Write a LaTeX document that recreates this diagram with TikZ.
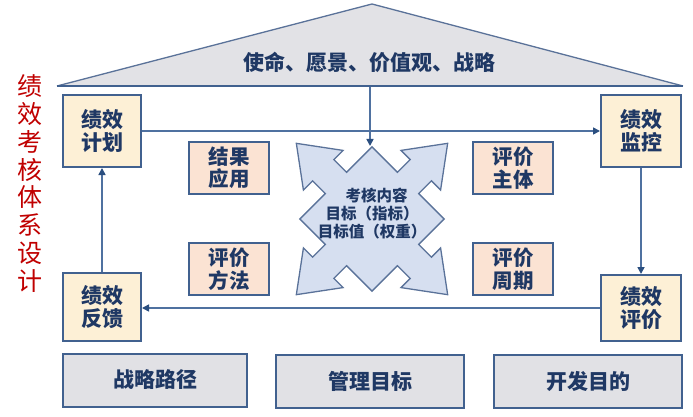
\documentclass[tikz,border=0pt]{standalone}
\usepackage{fontspec}
\newfontfamily\cjk{Noto Sans CJK SC}
\usetikzlibrary{arrows.meta}
\definecolor{edgeblue}{HTML}{41618F}
\definecolor{linkblue}{HTML}{4F71A0}
\definecolor{tipblue}{HTML}{2B4F80}
\definecolor{navy}{HTML}{1F3864}
\definecolor{cream}{HTML}{FDF0D6}
\definecolor{peach}{HTML}{FBE3D3}
\definecolor{roofgray}{HTML}{E2E2E6}
\definecolor{boxgray}{HTML}{E1E1E5}
\definecolor{paleblue}{HTML}{D6DFF0}
\definecolor{shapeedge}{HTML}{5A7299}
\definecolor{titlered}{HTML}{C00000}
\begin{document}
\begin{tikzpicture}[x=1pt,y=-1pt,
  box/.style={draw=edgeblue, line width=2pt, inner sep=0pt, align=center,
    font=\cjk\bfseries\fontsize{21}{23}\selectfont, text=navy},
  yellowbox/.style={box, fill=cream, minimum width=78pt, minimum height=72pt},
  peachbox/.style={box, fill=peach, minimum width=80pt, minimum height=52pt,
    font=\cjk\bfseries\fontsize{20.5}{22.5}\selectfont},
  graybox/.style={box, fill=boxgray, minimum width=186pt, minimum height=53pt},
  link/.style={draw=linkblue, line width=1.6pt,
    -{Triangle[width=7pt,length=7pt,color=tipblue]}},
  rooftext/.style={inner sep=0pt, text=navy, font=\cjk\bfseries\fontsize{21}{24}\selectfont},
  coretext/.style={inner sep=0pt, align=center, text=navy,
    font=\cjk\bfseries\fontsize{15.5}{18}\selectfont},
  sidetext/.style={inner sep=0pt, align=center, text=titlered,
    font=\cjk\fontsize{25}{27.9}\selectfont}
]
\useasboundingbox (0,0) rectangle (693,417);
\fill[white] (0,0) rectangle (693,417);

% roof
\fill[roofgray] (57,86) -- (372,4) -- (683,86) -- cycle;
\draw[shapeedge, line width=1.3pt, line join=round] (57,86) -- (372,4) -- (683,86);
\draw[edgeblue, line width=2pt] (57,86) -- (683,86);
\node[rooftext] (mission) at (369.5,62.5) {使命、愿景、价值观、战略};

% centre shape
\begin{scope}[shift={(372,219)}, rotate=45]
\filldraw[fill=paleblue, draw=shapeedge, line width=1.3pt, line join=miter]
 (51,-15) -- (69,-15) -- (69,-28) -- (107,0) -- (69,28) -- (69,15) -- (51,15) --
 (51,51) --
 (15,51) -- (15,69) -- (28,69) -- (0,107) -- (-28,69) -- (-15,69) -- (-15,51) --
 (-51,51) --
 (-51,15) -- (-69,15) -- (-69,28) -- (-107,0) -- (-69,-28) -- (-69,-15) -- (-51,-15) --
 (-51,-51) --
 (-15,-51) -- (-15,-69) -- (-28,-69) -- (0,-107) -- (28,-69) -- (15,-69) -- (15,-51) --
 (51,-51) -- cycle;
\end{scope}
\node[coretext] (core) at (372,213.5) {\hspace*{9pt}考核内容\\目标（指标）\\目标值（权重）};
\coordinate (roofbase) at (370,87);
\coordinate (ctop) at (370,146);
\draw[link] (roofbase) -- (ctop);

% side title
\node[sidetext] (title) at (29.5,183.5) {绩\\效\\考\\核\\体\\系\\设\\计};

% cycle boxes
\node[yellowbox] (plan) at (102,131) {绩效\\计划};
\node[yellowbox, minimum width=80pt] (monitor) at (641,131) {绩效\\监控};
\node[yellowbox, minimum height=68pt] (feedback) at (102,307) {绩效\\反馈};
\node[yellowbox, minimum width=80pt, minimum height=66pt] (evaluate) at (641,308) {绩效\\评价};

% element boxes
\node[peachbox] (apply) at (229,168) {结果\\应用};
\node[peachbox] (subject) at (513,168) {评价\\主体};
\node[peachbox] (method) at (229,269) {评价\\方法};
\node[peachbox] (period) at (513,269) {评价\\周期};

% base boxes
\node[graybox, minimum width=184pt] (path) at (155,380) {战略路径};
\node[graybox, minimum width=188pt] (goal) at (370,381.5) {管理目标};
\node[graybox, minimum width=188pt] (aim) at (588,381.5) {开发目的};

% connectors
\draw[link] (plan.east) -- (monitor.west);
\draw[link] (monitor.south) -- (evaluate.north);
\draw[link] (evaluate.west) -- (evaluate.west -| feedback.east);
\draw[link] (feedback.north) -- (plan.south);
\end{tikzpicture}
\end{document}
